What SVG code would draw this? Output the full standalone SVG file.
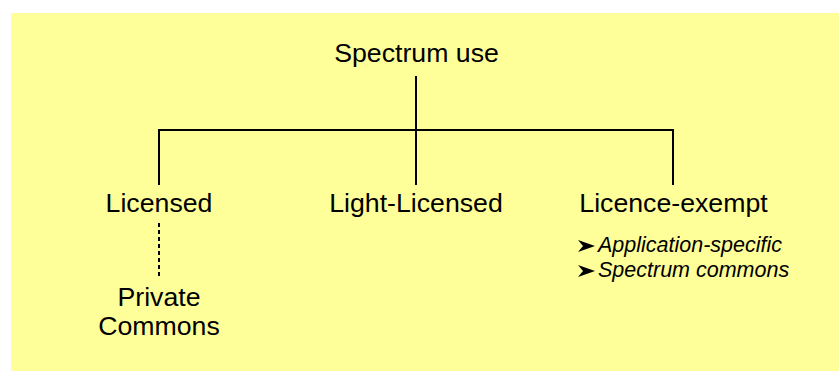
<svg xmlns="http://www.w3.org/2000/svg" width="839" height="371" viewBox="0 0 839 371">
<defs>
<path id="arrow" d="M0 0L17 6L0 12L5 6Z" fill="#000"/>
</defs>
<style>
.t{font-family:"Liberation Sans",Arial,sans-serif;font-size:26.7px;fill:#000;text-anchor:middle}
.b{font-family:"Liberation Sans",Arial,sans-serif;font-size:21.5px;font-style:italic;fill:#000}
.c{stroke:#000;stroke-width:2;fill:none}
</style>
<rect x="0" y="0" width="839" height="371" fill="#ffffff"/>
<rect x="11" y="13" width="828" height="358" fill="#ffff99"/>
<g id="connectors">
<path class="c" d="M416 76V185M159 185V130H673V185"/>
<path class="c" d="M159 223V276" stroke-dasharray="4 3"/>
</g>
<g id="spectrum-use"><text class="t" x="416.5" y="62">Spectrum use</text></g>
<g id="licensed"><text class="t" x="159" y="212">Licensed</text></g>
<g id="light-licensed"><text class="t" x="416" y="212">Light-Licensed</text></g>
<g id="licence-exempt"><text class="t" x="673.5" y="212">Licence-exempt</text>
<use href="#arrow" x="578" y="240"/>
<text class="b" x="598" y="252">Application-specific</text>
<use href="#arrow" x="578" y="265"/>
<text class="b" x="598" y="277">Spectrum commons</text>
</g>
<g id="private-commons"><text class="t" x="159" y="306">Private</text><text class="t" x="159" y="335">Commons</text></g>
</svg>
